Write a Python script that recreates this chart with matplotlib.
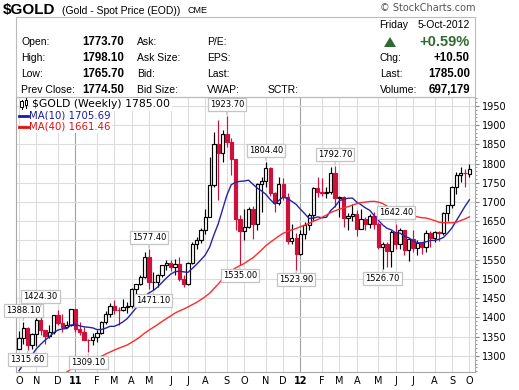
import numpy as np
import pandas as pd
import matplotlib
matplotlib.use("Agg")
import matplotlib.pyplot as plt
from matplotlib.patches import Rectangle, Polygon
from matplotlib.lines import Line2D

# ---- data: weekly gold candles, week ending 8-Oct-2010 .. 5-Oct-2012 ----
weeks = pd.date_range("2010-10-08", periods=105, freq="W-FRI")

opens = [1318, 1346, 1372, 1328, 1358, 1394, 1367, 1352, 1363, 1406, 1385, 1376, 1380,
         1421, 1369, 1361, 1342, 1340, 1348, 1360, 1388, 1410, 1429, 1420, 1418, 1428,
         1429, 1474, 1486, 1504, 1556, 1491, 1493, 1509, 1536, 1542, 1530, 1540, 1501,
         1486, 1542, 1591, 1601, 1628, 1660, 1745, 1850, 1828, 1876, 1857, 1812, 1657,
         1624, 1636, 1682, 1642, 1747, 1755, 1788, 1724, 1697, 1746, 1712, 1598, 1606,
         1566, 1617, 1640, 1665, 1737, 1725, 1723, 1727, 1776, 1711, 1713, 1658, 1663,
         1669, 1631, 1657, 1642, 1663, 1644, 1582, 1592, 1572, 1622, 1590, 1627, 1575,
         1604, 1581, 1592.5, 1584, 1619, 1607, 1622, 1619.4, 1672, 1692, 1740, 1769, 1776,
         1773.7]
highs = [1365, 1388.1, 1375, 1360, 1398, 1424.3, 1368, 1380, 1407, 1420, 1408, 1390, 1422,
         1423, 1389, 1375, 1345, 1360, 1368, 1390, 1416, 1437, 1446, 1427, 1447, 1440,
         1476, 1487, 1510, 1569, 1577.4, 1517, 1514, 1537, 1549, 1549, 1553, 1556, 1510,
         1545, 1595, 1610, 1632, 1682, 1817, 1882, 1912, 1888, 1923.7, 1866, 1813, 1665,
         1683, 1686, 1690, 1750, 1764, 1804.4, 1790, 1727, 1764, 1763, 1724, 1642, 1620,
         1626, 1648, 1672, 1739, 1764, 1763, 1740, 1790, 1792.7, 1716, 1715, 1672, 1695,
         1680, 1681, 1660, 1668, 1674, 1647, 1597, 1596, 1627, 1642.4, 1632, 1628, 1605,
         1626, 1600, 1595, 1627, 1624, 1625, 1625, 1675, 1692, 1741, 1778, 1790, 1787,
         1798.1]
lows = [1317, 1330, 1315.6, 1318, 1326, 1355, 1330, 1346, 1356, 1380, 1363, 1372, 1377,
        1363, 1355, 1342, 1309.1, 1327, 1336, 1358, 1383, 1402, 1408, 1381, 1416, 1411,
        1424, 1453, 1484, 1502, 1474, 1471.1, 1480, 1505, 1522, 1521, 1511, 1495, 1478,
        1483, 1540, 1579, 1593, 1616, 1660, 1739, 1705, 1805, 1842, 1770, 1627, 1535,
        1601, 1632, 1604, 1626, 1673, 1740, 1715, 1674, 1692, 1705, 1591, 1590, 1523.9,
        1563, 1604, 1628, 1650, 1713, 1715, 1710, 1720, 1688, 1662, 1635, 1627, 1650,
        1612, 1630, 1627, 1632, 1631, 1577, 1526.7, 1532, 1532, 1578, 1577, 1562, 1547,
        1571, 1563, 1565, 1571, 1584, 1597, 1598, 1614, 1651, 1685, 1722, 1752, 1738,
        1765.7]
closes = [1346, 1372, 1328, 1358, 1394, 1367, 1352, 1363, 1406, 1385, 1376, 1380, 1421,
          1369, 1361, 1342, 1340, 1348, 1360, 1388, 1410, 1429, 1420, 1418, 1428, 1429,
          1474, 1486, 1504, 1556, 1491, 1493, 1509, 1536, 1542, 1530, 1540, 1501, 1486,
          1542, 1591, 1601, 1628, 1660, 1745, 1850, 1828, 1876, 1857, 1812, 1657, 1624,
          1636, 1682, 1642, 1747, 1755, 1788, 1724, 1697, 1746, 1712, 1598, 1606, 1566,
          1617, 1640, 1665, 1737, 1725, 1723, 1727, 1776, 1711, 1713, 1658, 1663, 1669,
          1631, 1657, 1642, 1663, 1644, 1582, 1592, 1572, 1622, 1590, 1627, 1575, 1604,
          1581, 1592.5, 1584, 1619, 1607, 1622, 1619.4, 1672, 1692, 1740, 1769, 1776, 1774.5,
          1785.0]
# closes of the 39 weeks before the first shown candle (Jan-Oct 2010), feed the MAs
pre_closes = [1138, 1130, 1091, 1083, 1064, 1093, 1119, 1118, 1133, 1102, 1107, 1105,
              1125, 1161, 1136, 1142, 1180, 1209, 1228, 1177, 1214, 1218, 1227, 1256,
              1256, 1208, 1210, 1190, 1189, 1181, 1204, 1215, 1228, 1236, 1249, 1246,
              1275, 1297, 1317]

# labelled swing points
label_weeks = ["2010-10-15", "2010-10-22", "2010-11-12", "2011-01-28", "2011-05-06",
               "2011-05-13", "2011-09-09", "2011-09-30", "2011-11-11", "2011-12-30",
               "2012-03-02", "2012-05-18", "2012-06-08"]
label_kinds = ["H", "L", "H", "L", "H", "L", "H", "L", "H", "L", "H", "L", "H"]

y_ticks = list(range(1300, 2000, 50))

# header table
left_labels = ["Open:", "High:", "Low:", "Prev Close:"]
left_values = ["1773.70", "1798.10", "1765.70", "1774.50"]
mid_labels = ["Ask:", "Ask Size:", "Bid:", "Bid Size:"]
pe_labels = ["P/E:", "EPS:", "Last:", "VWAP:"]
right_labels = ["Chg:", "Last:", "Volume:"]
right_values = ["+10.50", "1785.00", "697,179"]

# ---- figure ----
W, H = 519, 390
fig = plt.figure(figsize=(W / 100, H / 100), dpi=100)
fig.patch.set_facecolor("white")


def fx(x):
    return x / W


def fy(y):
    return 1 - y / H


RED = "#d0103a"
GRID = "#dcdcdc"
FRAME = "#a8a8a8"

ax = fig.add_axes([fx(16), fy(372), (475 - 16) / W, (372 - 97) / H])
n = len(closes)
xs = np.arange(n)
ax.set_xlim(-0.7, 105.3)
ax.set_ylim(1258, 1973)

# moving averages from the full close history
allc = pd.Series(pre_closes + closes)
ma10 = allc.rolling(10).mean().values[-n:]
ma40 = allc.rolling(40).mean().values[-n:]

# month ticks: first week whose Friday falls on day >= 5
tick_pos, tick_lab, tick_year = [], [], []
seen = set()
for i, d in enumerate(weeks):
    key = (d.year, d.month)
    if key in seen or d.day < 5:
        continue
    seen.add(key)
    tick_pos.append(i)
    if d.month == 1:
        tick_lab.append(d.strftime("%y"))
        tick_year.append(True)
    else:
        tick_lab.append(d.strftime("%b")[0])
        tick_year.append(False)

for p, yr in zip(tick_pos, tick_year):
    ax.axvline(p, color="#a0a0a0" if yr else GRID, lw=0.8, zorder=1)
for yv in y_ticks:
    ax.axhline(yv, color=GRID, lw=0.8, zorder=1)

# candles
for i in range(n):
    o, h, l, c = opens[i], highs[i], lows[i], closes[i]
    prev = closes[i - 1] if i else pre_closes[-1]
    col = RED if c < prev else "black"
    ax.vlines(i, l, h, color=col, lw=0.85, zorder=3)
    face = col if c < o else "white"
    ax.add_patch(Rectangle((i - 0.38, min(o, c)), 0.76, max(abs(c - o), 1.0),
                           facecolor=face, edgecolor=col, lw=0.85, zorder=4))

ax.plot(xs, ma10, color="#2424a8", lw=1.0, zorder=5)
ax.plot(xs, ma40, color="#ff2a2a", lw=1.0, zorder=5)

# swing labels
for d, kind in zip(label_weeks, label_kinds):
    i = weeks.get_loc(pd.Timestamp(d))
    val = highs[i] if kind == "H" else lows[i]
    off = 5 if kind == "H" else -4
    ax.annotate(f"{val:.2f}", xy=(i, val), xytext=(0, off), textcoords="offset points",
                ha="center", va="bottom" if kind == "H" else "top", fontsize=6,
                bbox=dict(boxstyle="square,pad=0.25", fc="white", ec="#c4c4c4", lw=0.9),
                arrowprops=dict(arrowstyle="-", color="#c4c4c4", lw=0.9, shrinkA=0, shrinkB=1),
                annotation_clip=False, zorder=7)

# axes styling
ax.set_xticks(tick_pos)
ax.set_xticklabels(tick_lab, fontsize=7)
for t, yr in zip(ax.get_xticklabels(), tick_year):
    if yr:
        t.set_fontweight("bold")
ax.tick_params(axis="x", length=0, pad=3)
ax.yaxis.tick_right()
ax.set_yticks(y_ticks)
ax.set_yticklabels([str(v) for v in y_ticks], fontsize=7)
ax.set_yticks(range(1260, 1980, 10), minor=True)
ax.tick_params(axis="y", which="major", length=3, color="#888888", pad=2)
ax.tick_params(axis="y", which="minor", length=1.5, color="#888888")
for s in ax.spines.values():
    s.set_color(FRAME)
    s.set_linewidth(0.8)

# legend block inside the plot
ax.text(0.035, 0.975, "$GOLD (Weekly) 1785.00", transform=ax.transAxes, fontsize=7.8,
        va="center", ha="left", zorder=8,
        bbox=dict(boxstyle="square,pad=0.15", fc="white", ec="none"))
ax.text(0.028, 0.932, "MA(10) 1705.69", transform=ax.transAxes, fontsize=7.3,
        va="center", ha="left", color="#1c1c9c", zorder=8,
        bbox=dict(boxstyle="square,pad=0.15", fc="white", ec="none"))
ax.text(0.028, 0.892, "MA(40) 1661.46", transform=ax.transAxes, fontsize=7.3,
        va="center", ha="left", color="#e01010", zorder=8,
        bbox=dict(boxstyle="square,pad=0.15", fc="white", ec="none"))
ax.add_line(Line2D([0.007, 0.026], [0.932, 0.932], transform=ax.transAxes,
                   color="#1c1c9c", lw=2, zorder=9))
ax.add_line(Line2D([0.007, 0.026], [0.892, 0.892], transform=ax.transAxes,
                   color="#e01010", lw=2, zorder=9))
# tiny candle icon
for k, (lo, hi, b0, b1) in enumerate([(0.955, 0.99, 0.965, 0.985), (0.96, 0.995, 0.97, 0.99)]):
    xx = 0.012 + k * 0.01
    ax.add_line(Line2D([xx, xx], [lo, hi], transform=ax.transAxes, color="black", lw=0.7, zorder=9))
    ax.add_patch(Rectangle((xx - 0.003, b0), 0.006, b1 - b0, transform=ax.transAxes,
                           fc="white", ec="black", lw=0.7, zorder=9))

# ---- header ----
fig.text(fx(3), fy(10), "$GOLD", fontsize=11, fontweight="bold", va="center",
         family="Liberation Sans")
fig.text(fx(62), fy(10.5), "(Gold - Spot Price (EOD))", fontsize=7.5, va="center",
         family="Liberation Sans")
fig.text(fx(188), fy(10.5), "CME", fontsize=6.5, va="center", family="Liberation Sans")
fig.text(fx(475), fy(8), "\u00a9 StockCharts.com", fontsize=7, va="center", ha="right",
         color="#555555")

fig.add_artist(Rectangle((fx(16), fy(97)), (475 - 16) / W, (97 - 17) / H,
                         transform=fig.transFigure, fc="none", ec="#bbbbbb", lw=0.8))

rows_y = [42, 58, 74, 90]
for y, a, v, b, c in zip(rows_y, left_labels, left_values, mid_labels, pe_labels):
    fig.text(fx(21), fy(y), a, fontsize=7.5, va="center", family="Liberation Sans")
    fig.text(fx(82), fy(y), v, fontsize=8.3, va="center", fontweight="bold",
             family="Liberation Sans")
    fig.text(fx(137), fy(y), b, fontsize=7.5, va="center", family="Liberation Sans")
    fig.text(fx(207), fy(y), c, fontsize=7.5, va="center", family="Liberation Sans")
fig.text(fx(268), fy(90), "SCTR:", fontsize=7.5, va="center", family="Liberation Sans")

fig.text(fx(379), fy(25), "Friday", fontsize=7.5, va="center", family="Liberation Sans")
fig.text(fx(470), fy(25), "5-Oct-2012", fontsize=7.5, va="center", ha="right",
         family="Liberation Sans")
fig.add_artist(Polygon([(fx(384), fy(47)), (fx(396), fy(47)), (fx(390), fy(37))],
                       closed=True, transform=fig.transFigure, fc="#2e6b30", ec="none"))
fig.text(fx(470), fy(42), "+0.59%", fontsize=10.5, va="center", ha="right",
         fontweight="bold", color="#2e6b30", family="Liberation Sans")
for y, a, v in zip(rows_y[1:], right_labels, right_values):
    fig.text(fx(380), fy(y), a, fontsize=7.5, va="center", family="Liberation Sans")
    fig.text(fx(470), fy(y), v, fontsize=8.3, va="center", ha="right", fontweight="bold",
             family="Liberation Sans")

fig.savefig("out.png", dpi=100)
